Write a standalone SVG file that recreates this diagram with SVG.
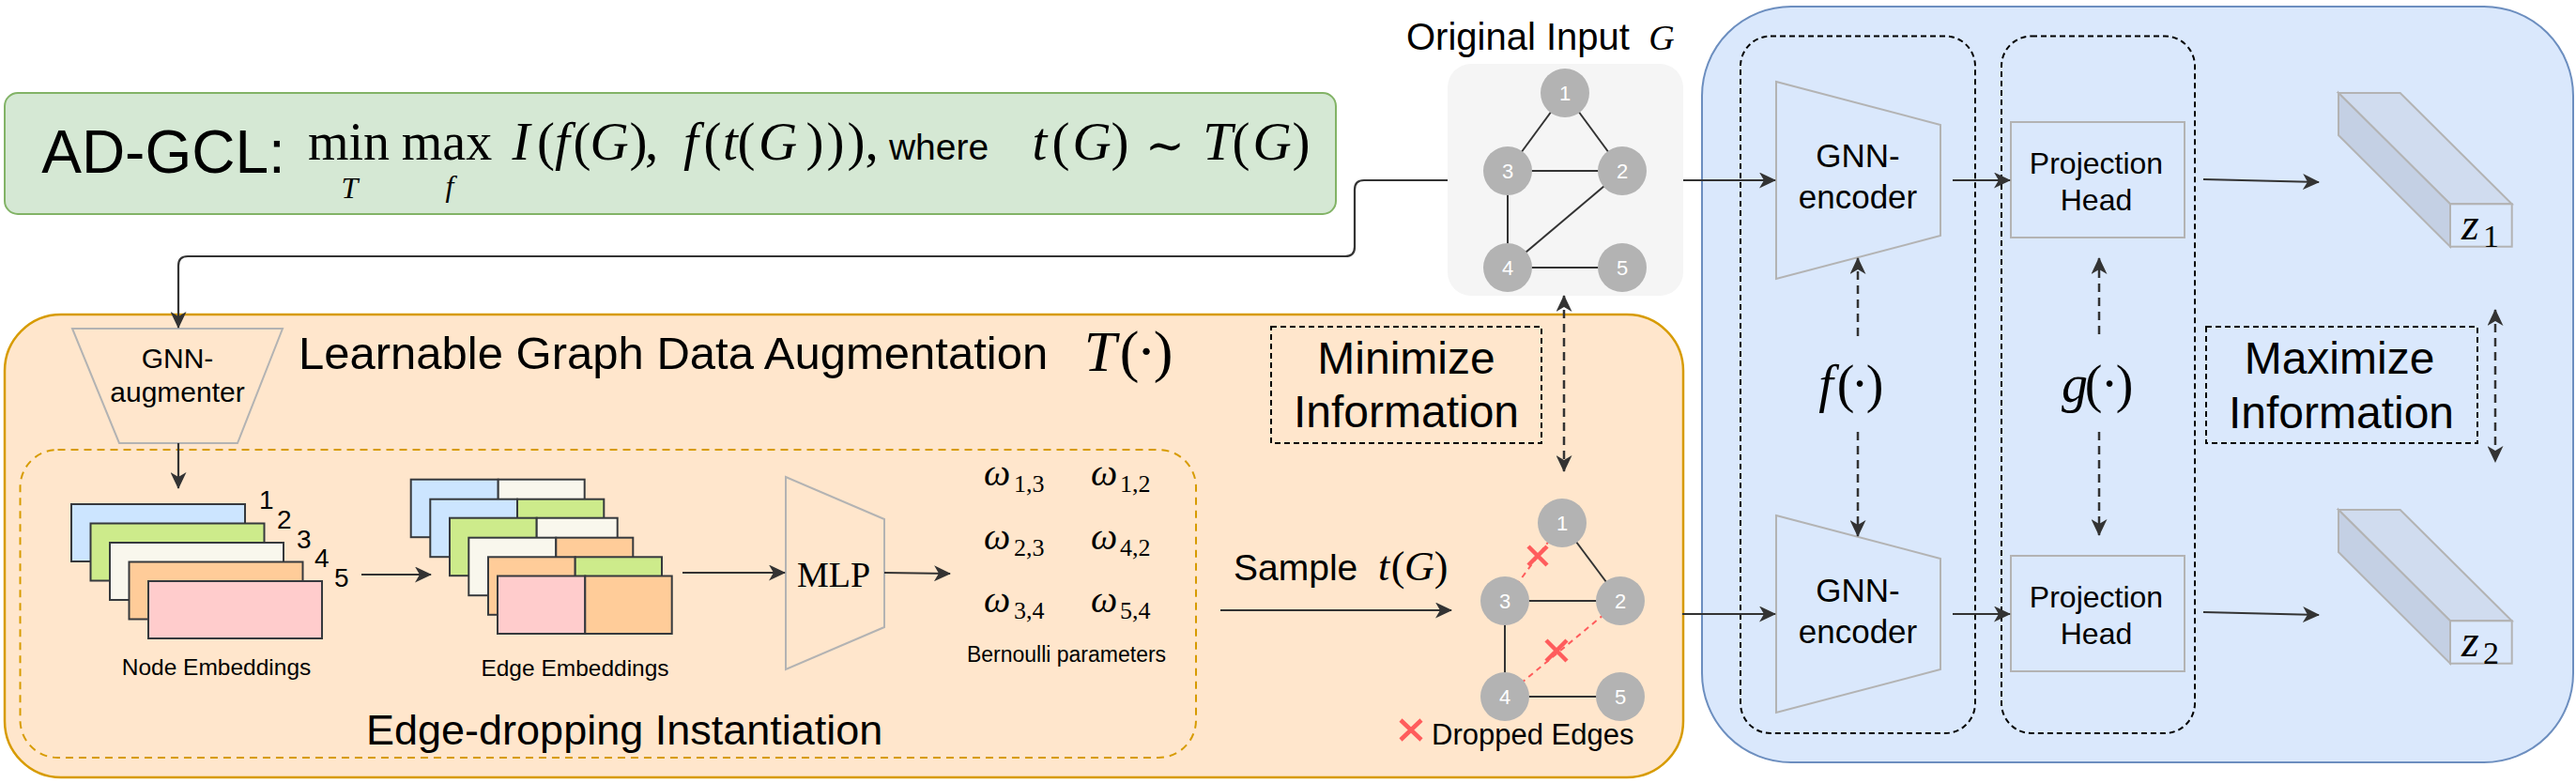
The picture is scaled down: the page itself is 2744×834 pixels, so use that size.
<svg xmlns="http://www.w3.org/2000/svg" width="2744" height="834" viewBox="0 0 2744 834">
<style>
.s{font-family:'Liberation Sans',Arial,sans-serif;fill:#000}
.m{font-family:'Liberation Serif','Times New Roman',serif;fill:#000}
.i{font-style:italic}
.c{fill:none;stroke:#333;stroke-width:2.2}
.d{fill:none;stroke:#333;stroke-width:2.5;stroke-dasharray:9 6}
.db{fill:none;stroke:#000;stroke-width:2;stroke-dasharray:6 4}
.tz{fill:none;stroke:#b3b3b3;stroke-width:2}
.e{stroke:#333;stroke-width:2}
.nd{fill:#b3b3b3}
.nl{font-family:'Liberation Sans',Arial,sans-serif;font-size:22px;fill:#fff;text-anchor:middle}
.emb{stroke:#36393d;stroke-width:2}
.rx{stroke:#ff5c5c;stroke-width:4.5}
.rd{stroke:#ff5c5c;stroke-width:2;stroke-dasharray:6 5}
.blue{fill:#cce5ff}.grn{fill:#cdeb8b}.crm{fill:#f9f7ed}.org{fill:#ffcc99}.pnk{fill:#ffcccc}
</style>
<defs>
<marker id="a" viewBox="0 0 18 17" markerWidth="18" markerHeight="17" refX="17" refY="8.5" orient="auto-start-reverse" markerUnits="userSpaceOnUse"><path d="M0,0 L18,8.5 L0,17 L5,8.5 Z" fill="#333"/></marker>
</defs>
<rect width="2744" height="834" fill="#fff"/>

<g id="objective">
<rect x="5" y="99" width="1418" height="129" rx="14" fill="#d5e8d4" stroke="#82b366" stroke-width="2"/>
<text class="m" font-size="57" text-anchor="middle" y="170"><tspan class="s" x="174" y="184" font-size="64">AD-GCL:</tspan><tspan x="371.5" y="170" font-size="56">min</tspan><tspan x="372.5" y="211" class="i" font-size="32">T</tspan><tspan x="476" y="170" font-size="56">max</tspan><tspan x="479" y="209" class="i" font-size="32">f</tspan><tspan x="555" y="170" class="i">I</tspan><tspan x="581.5">(</tspan><tspan x="599" class="i">f</tspan><tspan x="620">(</tspan><tspan x="649" class="i">G</tspan><tspan x="680">)</tspan><tspan x="694">,</tspan><tspan x="736" class="i">f</tspan><tspan x="759">(</tspan><tspan x="778" class="i">t</tspan><tspan x="795">(</tspan><tspan x="828.5" class="i">G</tspan><tspan x="868">)</tspan><tspan x="890">)</tspan><tspan x="912">)</tspan><tspan x="928.5">,</tspan><tspan class="s" x="1000" font-size="39">where</tspan><tspan x="1107.5" class="i">t</tspan><tspan x="1130">(</tspan><tspan x="1163" class="i">G</tspan><tspan x="1193">)</tspan><tspan x="1241" y="172" font-size="50" font-family="'DejaVu Serif',serif">∼</tspan><tspan x="1297" y="170" class="i">T</tspan><tspan x="1322">(</tspan><tspan x="1355" class="i">G</tspan><tspan x="1386">)</tspan></text>
</g>

<g id="augmentation">
<rect x="5" y="335" width="1788" height="493" rx="60" fill="#ffe6cc" stroke="#d79b00" stroke-width="2.5"/>
<text class="s" x="318" y="393" font-size="49">Learnable Graph Data Augmentation</text>
<text class="m" font-size="62" text-anchor="middle" y="395"><tspan x="1172" class="i">T</tspan><tspan x="1203">(</tspan><tspan x="1221">·</tspan><tspan x="1239">)</tspan></text>
</g>

<g id="edge-dropping">
<rect x="21.5" y="479" width="1252.5" height="328" rx="40" fill="none" stroke="#d79b00" stroke-width="2" stroke-dasharray="8 6"/>
<text class="s" x="390" y="793" font-size="45">Edge-dropping Instantiation</text>
</g>

<g id="gnn-augmenter">
<polygon class="tz" points="77,350 301,350 253,472 127,472"/>
<text class="s" font-size="30" text-anchor="middle"><tspan x="189" y="392">GNN-</tspan><tspan x="189" y="428">augmenter</tspan></text>
</g>

<g id="node-embeddings">
<rect class="emb blue" x="76" y="537" width="185" height="61"/>
<rect class="emb grn" x="96.5" y="557.5" width="185" height="61"/>
<rect class="emb crm" x="117" y="578" width="185" height="61"/>
<rect class="emb org" x="137.5" y="598.5" width="185" height="61"/>
<rect class="emb pnk" x="158" y="619" width="185" height="61"/>
<text class="s" font-size="28"><tspan x="276" y="542">1</tspan><tspan x="295" y="563">2</tspan><tspan x="316" y="584">3</tspan><tspan x="335" y="604">4</tspan><tspan x="356" y="625">5</tspan></text>
<text class="s" x="230.5" y="719" font-size="24.5" text-anchor="middle">Node Embeddings</text>
</g>

<g id="edge-embeddings">
<rect class="emb blue" x="437.7" y="510.7" width="93" height="61.5"/><rect class="emb crm" x="530.7" y="510.7" width="92" height="61.5"/>
<rect class="emb blue" x="458.3" y="531.7" width="92.7" height="61.5"/><rect class="emb grn" x="551" y="531.7" width="92.3" height="61.5"/>
<rect class="emb grn" x="479" y="551.7" width="92.7" height="61.5"/><rect class="emb crm" x="571.7" y="551.7" width="86" height="61.5"/>
<rect class="emb crm" x="499.3" y="572.7" width="93" height="61.5"/><rect class="emb org" x="592.3" y="572.7" width="82" height="61.5"/>
<rect class="emb org" x="520" y="593.3" width="92.7" height="61.5"/><rect class="emb grn" x="612.7" y="593.3" width="92.3" height="61.5"/>
<rect class="emb pnk" x="530" y="613.5" width="93.3" height="61.5"/><rect class="emb org" x="623.3" y="613.5" width="92.4" height="61.5"/>
<text class="s" x="612.5" y="720" font-size="24.5" text-anchor="middle">Edge Embeddings</text>
</g>

<g id="mlp">
<polygon class="tz" points="837,508 942,553 942,668 837,713"/>
<text class="m" x="888" y="625" font-size="38" text-anchor="middle">MLP</text>
</g>

<g id="bernoulli">
<text class="m i" font-size="40"><tspan x="1048" y="517">ω</tspan><tspan x="1162" y="517">ω</tspan><tspan x="1048" y="585">ω</tspan><tspan x="1162" y="585">ω</tspan><tspan x="1048" y="652">ω</tspan><tspan x="1162" y="652">ω</tspan></text>
<text class="m" font-size="26"><tspan x="1080" y="524">1,3</tspan><tspan x="1193" y="524">1,2</tspan><tspan x="1080" y="592">2,3</tspan><tspan x="1193" y="592">4,2</tspan><tspan x="1080" y="659">3,4</tspan><tspan x="1193" y="659">5,4</tspan></text>
<text class="s" x="1136" y="705" font-size="23" text-anchor="middle">Bernoulli parameters</text>
</g>

<g id="sample-label">
<text class="s" x="1314" y="618" font-size="39">Sample</text>
<text class="m" font-size="44" text-anchor="middle" y="618"><tspan x="1474" class="i">t</tspan><tspan x="1489">(</tspan><tspan x="1512" class="i">G</tspan><tspan x="1535">)</tspan></text>
</g>

<g id="minimize">
<rect class="db" x="1354" y="348" width="288" height="124"/>
<text class="s" font-size="48" text-anchor="middle"><tspan x="1498" y="398">Minimize</tspan><tspan x="1498" y="455">Information</tspan></text>
</g>

<g id="sampled-graph">
<line class="e" x1="1664" y1="557" x2="1726" y2="640"/>
<line class="e" x1="1603" y1="640" x2="1726" y2="640"/>
<line class="e" x1="1603" y1="640" x2="1603" y2="742"/>
<line class="e" x1="1603" y1="742" x2="1726" y2="742"/>
<line class="rd" x1="1664" y1="557" x2="1603" y2="640"/>
<line class="rd" x1="1726" y1="640" x2="1603" y2="742"/>
<path class="rx" d="M1628,582 L1648,602 M1648,582 L1628,602"/>
<path class="rx" d="M1647,682 L1669,704 M1669,682 L1647,704"/>
<circle class="nd" cx="1664" cy="557" r="26"/><circle class="nd" cx="1603" cy="640" r="26"/><circle class="nd" cx="1726" cy="640" r="26"/><circle class="nd" cx="1603" cy="742" r="26"/><circle class="nd" cx="1726" cy="742" r="26"/>
<text class="nl"><tspan x="1664" y="565">1</tspan><tspan x="1603" y="648">3</tspan><tspan x="1726" y="648">2</tspan><tspan x="1603" y="750">4</tspan><tspan x="1726" y="750">5</tspan></text>
<path class="rx" d="M1492,767 L1514,788 M1514,767 L1492,788"/>
<text class="s" x="1525" y="793" font-size="31">Dropped Edges</text>
</g>

<g id="original-input">
<text class="s" x="1498" y="53" font-size="40">Original Input</text>
<text class="m i" x="1770" y="53" font-size="38" text-anchor="middle">G</text>
<rect x="1542" y="68" width="251" height="247" rx="25" fill="#f5f5f5"/>
<line class="e" x1="1667" y1="99" x2="1606" y2="182"/>
<line class="e" x1="1667" y1="99" x2="1728" y2="182"/>
<line class="e" x1="1606" y1="182" x2="1728" y2="182"/>
<line class="e" x1="1606" y1="182" x2="1606" y2="285"/>
<line class="e" x1="1728" y1="182" x2="1606" y2="285"/>
<line class="e" x1="1606" y1="285" x2="1728" y2="285"/>
<circle class="nd" cx="1667" cy="99" r="26"/><circle class="nd" cx="1606" cy="182" r="26"/><circle class="nd" cx="1728" cy="182" r="26"/><circle class="nd" cx="1606" cy="285" r="26"/><circle class="nd" cx="1728" cy="285" r="26"/>
<text class="nl"><tspan x="1667" y="107">1</tspan><tspan x="1606" y="190">3</tspan><tspan x="1728" y="190">2</tspan><tspan x="1606" y="293">4</tspan><tspan x="1728" y="293">5</tspan></text>
</g>

<g id="encoder-block">
<rect x="1813" y="7" width="928" height="805" rx="95" fill="#dae8fc" stroke="#6c8ebf" stroke-width="2"/>
</g>

<g id="f-group">
<rect class="db" x="1854" y="38.5" width="250" height="742.5" rx="32"/>
<text class="m" font-size="56" text-anchor="middle" y="428"><tspan x="1945" class="i">f</tspan><tspan x="1966">(</tspan><tspan x="1981">·</tspan><tspan x="1997">)</tspan></text>
</g>

<g id="g-group">
<rect class="db" x="2132" y="38.5" width="206" height="742.5" rx="32"/>
<text class="m" font-size="56" text-anchor="middle" y="428"><tspan x="2210" class="i">g</tspan><tspan x="2230">(</tspan><tspan x="2247">·</tspan><tspan x="2263">)</tspan></text>
</g>

<g id="gnn-encoder-1">
<polygon class="tz" points="1892,87 2067,133 2067,251 1892,297"/>
<text class="s" font-size="35" text-anchor="middle"><tspan x="1979" y="178">GNN-</tspan><tspan x="1979" y="222">encoder</tspan></text>
</g>
<g id="gnn-encoder-2">
<polygon class="tz" points="1892,549 2067,595 2067,713 1892,759"/>
<text class="s" font-size="35" text-anchor="middle"><tspan x="1979" y="641">GNN-</tspan><tspan x="1979" y="685">encoder</tspan></text>
</g>

<g id="proj-head-1">
<rect class="tz" x="2142" y="130" width="185" height="123"/>
<text class="s" font-size="32" text-anchor="middle"><tspan x="2233" y="185">Projection</tspan><tspan x="2233" y="224">Head</tspan></text>
</g>
<g id="proj-head-2">
<rect class="tz" x="2142" y="592" width="185" height="123"/>
<text class="s" font-size="32" text-anchor="middle"><tspan x="2233" y="647">Projection</tspan><tspan x="2233" y="686">Head</tspan></text>
</g>

<g id="z1">
<polygon points="2491,99 2556.7,99 2675.7,217.3 2610,217.3" fill="#d0dcef" stroke="#b3b3b3" stroke-width="2"/>
<polygon points="2491,99 2610,217.3 2610,262.7 2491,144" fill="#c4d0e4" stroke="#b3b3b3" stroke-width="2"/>
<rect x="2610" y="217.3" width="65.7" height="45.4" fill="#dae8fc" stroke="#b3b3b3" stroke-width="2"/>
<text class="m" font-size="48"><tspan class="i" x="2622" y="255">z</tspan><tspan x="2645" y="263" font-size="34">1</tspan></text>
</g>
<g id="z2">
<polygon points="2491,543 2556.7,543 2675.7,661.3 2610,661.3" fill="#d0dcef" stroke="#b3b3b3" stroke-width="2"/>
<polygon points="2491,543 2610,661.3 2610,706.7 2491,588" fill="#c4d0e4" stroke="#b3b3b3" stroke-width="2"/>
<rect x="2610" y="661.3" width="65.7" height="45.4" fill="#dae8fc" stroke="#b3b3b3" stroke-width="2"/>
<text class="m" font-size="48"><tspan class="i" x="2622" y="699">z</tspan><tspan x="2645" y="707" font-size="34">2</tspan></text>
</g>

<g id="maximize">
<rect class="db" x="2350" y="348" width="289" height="124"/>
<text class="s" font-size="48" text-anchor="middle"><tspan x="2492" y="398">Maximize</tspan><tspan x="2494" y="456">Information</tspan></text>
</g>

<g id="connectors">
<path class="c" marker-end="url(#a)" d="M1542,192 H1453 Q1443,192 1443,202 V263 Q1443,273 1433,273 H200 Q190,273 190,283 V349"/>
<path class="c" marker-end="url(#a)" d="M190,472 V520"/>
<path class="c" marker-end="url(#a)" d="M385,612 H459"/>
<path class="c" marker-end="url(#a)" d="M727,610 H836"/>
<path class="c" marker-end="url(#a)" d="M942,610 L1012,611"/>
<path class="c" marker-end="url(#a)" d="M1300,650 H1546"/>
<path class="d" marker-start="url(#a)" marker-end="url(#a)" d="M1666,315 V502"/>
<path class="c" marker-end="url(#a)" d="M1793,192 H1891"/>
<path class="c" marker-end="url(#a)" d="M1792,654 H1891"/>
<path class="c" marker-end="url(#a)" d="M2080,192 H2141"/>
<path class="c" marker-end="url(#a)" d="M2080,654 H2141"/>
<path class="c" marker-end="url(#a)" d="M2347,191 L2470,194"/>
<path class="c" marker-end="url(#a)" d="M2347,652 L2470,655"/>
<path class="d" stroke-width="2" stroke-dasharray="7 6" marker-end="url(#a)" d="M1979,358 V275"/>
<path class="d" stroke-width="2" stroke-dasharray="7 6" marker-end="url(#a)" d="M1979,460 V571"/>
<path class="d" stroke-width="2" stroke-dasharray="7 6" marker-end="url(#a)" d="M2236,356 V275"/>
<path class="d" stroke-width="2" stroke-dasharray="7 6" marker-end="url(#a)" d="M2236,460 V570"/>
<path class="d" marker-start="url(#a)" marker-end="url(#a)" d="M2658,330 V492"/>
</g>
</svg>
